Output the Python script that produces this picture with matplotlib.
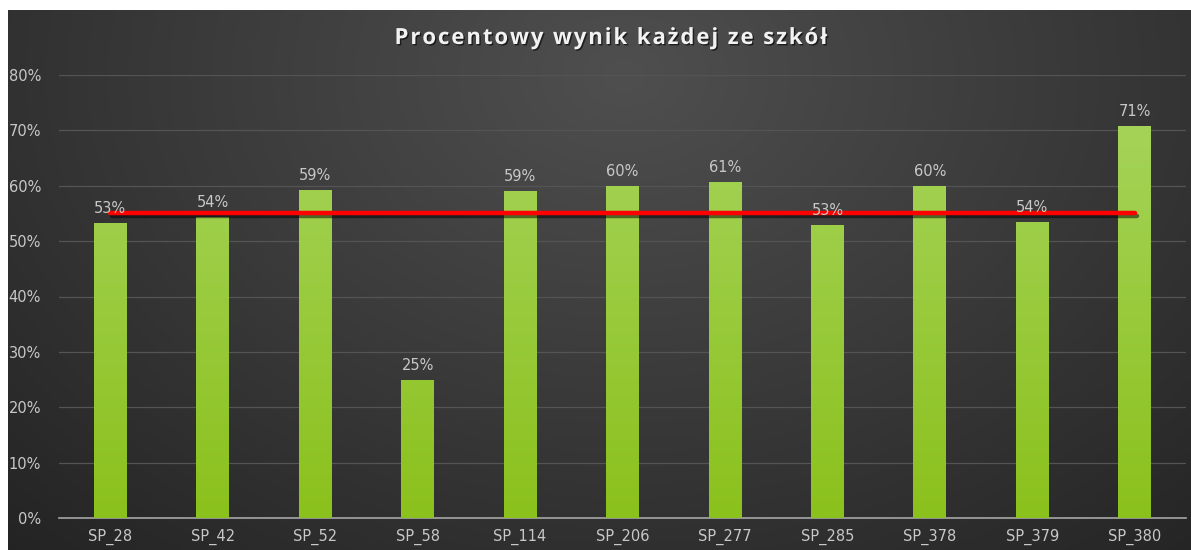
import numpy as np
import matplotlib
matplotlib.use("Agg")
import matplotlib.pyplot as plt
import matplotlib.patheffects as pe
from matplotlib.colors import LinearSegmentedColormap

schools = ["SP_28", "SP_42", "SP_52", "SP_58", "SP_114", "SP_206", "SP_277",
           "SP_285", "SP_378", "SP_379", "SP_380"]
scores = [0.532, 0.544, 0.593, 0.249, 0.590, 0.600, 0.606, 0.530, 0.600, 0.535, 0.708]
average = [0.55] * len(schools)
yticks = [0.0, 0.1, 0.2, 0.3, 0.4, 0.5, 0.6, 0.7, 0.8]
title = "Procentowy wynik każdej ze szkół"

W, H = 1191, 550
fig = plt.figure(figsize=(W / 100, H / 100), dpi=100)
fig.patch.set_facecolor("white")

# background panel with radial gradient
bg = fig.add_axes([8 / W, 0, 1 - 8 / W, 540 / H])
bg.set_axis_off()
ny, nx = 270, 600
yy, xx = np.mgrid[0:ny, 0:nx]
cx, cy = nx * 0.52, ny * 0.12
d = np.sqrt(((xx - cx) / nx) ** 2 + ((yy - cy) / (ny * 1.6)) ** 2)
d = d / d.max()
v = 0.31 - 0.17 * d
img = np.dstack([v, v, v])
bg.imshow(img, aspect="auto", extent=[0, 1, 0, 1], origin="upper")
bg.set_xlim(0, 1)
bg.set_ylim(0, 1)

ax = fig.add_axes([59 / W, 32 / H, (1186 - 59) / W, (518 - 75) / H])
ax.set_facecolor("none")
x = np.arange(len(schools))
ax.set_xlim(-0.5, len(schools) - 0.5)
ax.set_ylim(0, 0.8)

bar_w = 0.32
bars = ax.bar(x, scores, width=bar_w, color="none", zorder=3)
green = LinearSegmentedColormap.from_list("g", ["#8bc11c", "#a6d45c"])
grad = np.linspace(0, 1, 256).reshape(-1, 1)
for b in bars:
    bx = b.get_x()
    bw = b.get_width()
    im = ax.imshow(grad, cmap=green, aspect="auto", origin="lower",
                   extent=[bx, bx + bw, 0, 0.75], zorder=3)
    im.set_clip_path(b)

for xi, s in zip(x, scores):
    ax.annotate(f"{round(s * 100):.0f}%", (xi, s), xytext=(0, 5),
                textcoords="offset points", ha="center", va="bottom",
                color="#c8c8c8", fontsize=10.5, zorder=6)

ax.plot(x, average, color="#ff0000", lw=3.2, zorder=5,
        solid_capstyle="round",
        path_effects=[pe.SimpleLineShadow(offset=(1.5, -1.5), shadow_color="black", alpha=0.5),
                      pe.Normal()])

ax.set_yticks(yticks)
ax.set_yticklabels([f"{int(round(t * 100))}%" for t in yticks])
ax.set_xticks(x)
ax.set_xticklabels(schools)
ax.grid(axis="y", color="#545454", lw=0.9, zorder=0)
ax.set_axisbelow(True)
for s in ["top", "right", "left"]:
    ax.spines[s].set_visible(False)
ax.spines["bottom"].set_color("#a6a6a6")
ax.spines["bottom"].set_linewidth(1.2)
ax.tick_params(axis="both", length=0, colors="#c8c8c8", labelsize=10.5)
ax.tick_params(axis="y", pad=13)
ax.tick_params(axis="x", pad=8)

# title with letter spacing, laid out character by character
renderer = fig.canvas.get_renderer()
tkw = dict(color="#f2f2f2", fontsize=16, fontweight="bold", family="Open Sans",
           va="baseline", ha="left",
           path_effects=[pe.withSimplePatchShadow(offset=(1, -1), shadow_rgbFace="black", alpha=0.6)])
target_w = 433.0
widths = []
for ch in title:
    t = fig.text(0, 0, ch if ch != " " else "\u00a0", **tkw)
    widths.append(t.get_window_extent(renderer).width)
    t.remove()
natural = sum(widths)
track = (target_w - natural) / (len(title) - 1)
xpos = 611 - target_w / 2
base_y = H - 44
for ch, w in zip(title, widths):
    if ch != " ":
        fig.text(xpos / W, base_y / H, ch, **tkw)
    xpos += w + track

fig.savefig("out.png", dpi=100, facecolor=fig.get_facecolor())
